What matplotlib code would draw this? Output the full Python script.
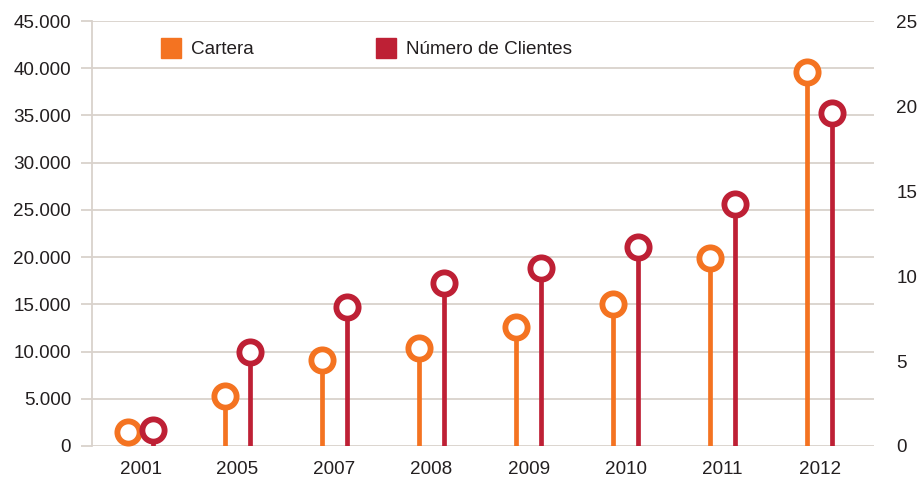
import numpy as np
import matplotlib.pyplot as plt
from matplotlib.patches import Rectangle

plt.rcParams['font.family'] = ['Liberation Sans', 'DejaVu Sans']

years = ['2001', '2005', '2007', '2008', '2009', '2010', '2011', '2012']
cartera = [1500, 5300, 9100, 10400, 12550, 15000, 19900, 39550]
clientes = [0.95, 5.55, 8.2, 9.6, 10.5, 11.7, 14.25, 19.6]

naranja = '#F47321'
rojo = '#BE2035'
gris = '#D9D2CC'
texto = '#231F20'
fs = 13.6

fig = plt.figure(figsize=(9.19, 4.79), dpi=100)
ax = fig.add_axes([92/919, 1-446/479, (874-92)/919, (446-21)/479])
ax2 = ax.twinx()

x = np.arange(len(years))
off = 0.128

# serie izquierda
ax.vlines(x - off, 0, cartera, color=naranja, lw=3.4, zorder=3)
ax.plot(x - off, cartera, 'o', ms=16, mew=4.2, mec=naranja, mfc='white',
        zorder=4, clip_on=False)

# serie derecha
ax2.vlines(x + off, 0, clientes, color=rojo, lw=3.4, zorder=3)
ax2.plot(x + off, clientes, 'o', ms=16, mew=4.2, mec=rojo, mfc='white',
         zorder=4, clip_on=False)

ax.set_xlim(-0.5, 7.56)
ax.set_ylim(0, 45000)
ax2.set_ylim(0, 25)

ax.set_yticks(np.arange(0, 45001, 5000))
ax.set_yticklabels(['0' if v == 0 else f'{v:,}'.replace(',', '.') for v in range(0, 45001, 5000)])
ax2.set_yticks(np.arange(0, 26, 5))
ax.set_xticks(x)
ax.set_xticklabels(years)

ax.grid(axis='y', color=gris, lw=1.3)
ax.set_axisbelow(True)

for a in (ax, ax2):
    for s in a.spines.values():
        s.set_visible(False)
ax.spines['left'].set_visible(True)
ax.spines['left'].set_color(gris)
ax.spines['left'].set_linewidth(1.3)

ax.tick_params(axis='y', length=8, width=1.3, color=gris, pad=7,
               labelsize=fs, labelcolor=texto)
ax.tick_params(axis='x', length=0, pad=11, labelsize=fs, labelcolor=texto)
ax2.tick_params(axis='y', length=0, pad=16, labelsize=fs, labelcolor=texto)

# leyenda
fig.patches.append(Rectangle((161/919, 1-57.7/479), 20/919, 20/479,
                             transform=fig.transFigure, color=naranja))
fig.text(191/919, 1-49.5/479, 'Cartera', fontsize=fs, color=texto, va='center')
fig.patches.append(Rectangle((376/919, 1-57.7/479), 20/919, 20/479,
                             transform=fig.transFigure, color=rojo))
fig.text(406.5/919, 1-49.5/479, 'Número de Clientes', fontsize=fs, color=texto, va='center')

fig.savefig('out.png', dpi=100)
